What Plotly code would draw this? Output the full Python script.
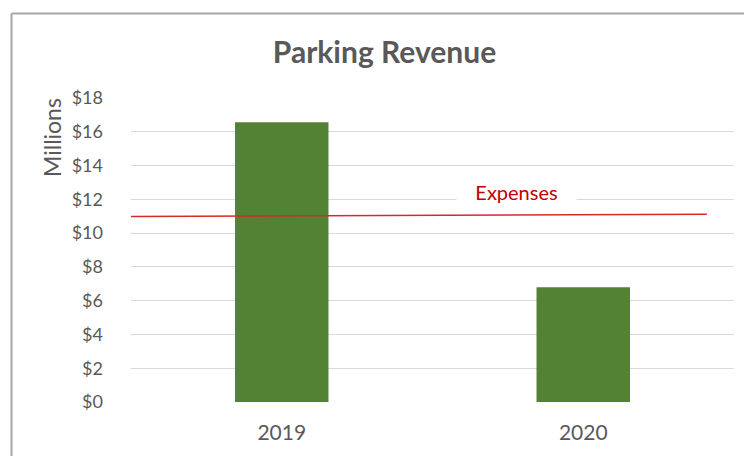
import plotly.graph_objects as go

years = ["2019", "2020"]
revenue = [16.57, 6.8]
expense_x = [-0.51, 1.41]
expense_y = [10.98, 11.12]

W, H = 744, 456
L, R, T, B = 131, 10, 98, 54
pw, ph = W - L - R, H - T - B

def px(x):
    return (x - L) / pw

def py(y):
    return (H - B - y) / ph

FONT = "Lato, 'Open Sans', sans-serif"
GRAY = "#595959"

fig = go.Figure()
fig.add_trace(go.Bar(
    x=list(range(len(years))), y=revenue,
    marker=dict(color="#548235", line=dict(width=0)),
    width=0.31, hoverinfo="skip", showlegend=False,
))
fig.add_trace(go.Scatter(
    x=expense_x, y=expense_y, mode="lines",
    line=dict(color="#D42A2A", width=1.6),
    hoverinfo="skip", showlegend=False, cliponaxis=False,
))

fig.update_layout(
    width=W, height=H,
    margin=dict(l=L, r=R, t=T, b=B, pad=0),
    paper_bgcolor="white", plot_bgcolor="white",
    font=dict(family=FONT, color=GRAY, size=18),
    title=dict(text="<b>Parking Revenue</b>", x=384.5 / W, y=1 - 52 / H,
               xanchor="center", yanchor="middle", xref="container", yref="container",
               font=dict(family=FONT, size=30, color=GRAY)),
    xaxis=dict(range=[-0.5, 1.5], tickvals=list(range(len(years))), ticktext=years,
               showgrid=False, zeroline=False, showline=False, ticks="",
               ticklabelstandoff=16, tickfont=dict(size=21, color=GRAY)),
    yaxis=dict(range=[0, 18], tickmode="linear", tick0=0, dtick=2, tickprefix="$",
               showgrid=True, gridcolor="#D9D9D9", gridwidth=1,
               zeroline=False, showline=False, ticks="",
               ticklabelstandoff=27, tickfont=dict(size=18, color=GRAY)),
    annotations=[
        dict(text="Expenses", x=px(516), y=py(191.7), xref="paper", yref="paper",
             xanchor="center", yanchor="middle", showarrow=False,
             font=dict(family=FONT, size=20, color="#C00000"),
             bgcolor="white", width=117, height=24),
        dict(text="Millions", x=px(52), y=py(138), xref="paper", yref="paper",
             xanchor="center", yanchor="middle", showarrow=False, textangle=-90,
             font=dict(family=FONT, size=23, color=GRAY)),
    ],
    shapes=[
        dict(type="line", xref="paper", yref="paper", x0=px(11.5), x1=px(11.5),
             y0=py(470), y1=py(13.5), line=dict(color="#A6A6A6", width=2)),
        dict(type="line", xref="paper", yref="paper", x0=px(11.5), x1=px(760),
             y0=py(13.5), y1=py(13.5), line=dict(color="#A6A6A6", width=2)),
    ],
)

fig.write_html("out.html", config={"displayModeBar": False},
               post_script="document.body.style.margin='0';document.body.style.overflow='hidden';")
